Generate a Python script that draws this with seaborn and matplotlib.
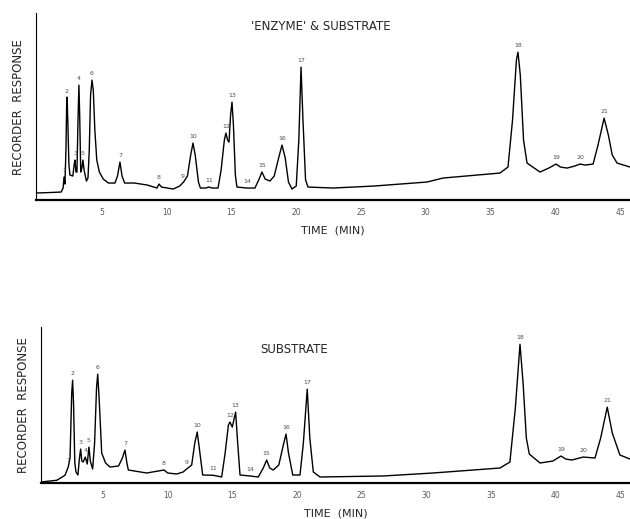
import numpy as np
import pandas as pd
import matplotlib
matplotlib.use("Agg")
import matplotlib.pyplot as plt
import seaborn as sns

# chromatogram traces (time in min, response in arbitrary units)
enz_time = [-0.1, 1.0, 1.85, 2.0, 2.07, 2.14, 2.22, 2.28, 2.31, 2.36, 2.45, 2.53, 2.75, 2.86,
            2.92, 2.99, 3.07, 3.14, 3.22, 3.28, 3.36, 3.45, 3.53, 3.62, 3.80, 3.92, 4.02, 4.12,
            4.23, 4.33, 4.45, 4.60, 4.80, 5.10, 5.50, 6.0, 6.20, 6.39, 6.55, 6.75, 7.5, 8.5,
            9.25, 9.40, 9.60, 10.5, 11.0, 11.3, 11.6, 11.85, 12.03, 12.2, 12.45, 12.6, 13.0,
            13.26, 13.5, 13.96, 14.2, 14.45, 14.57, 14.7, 14.81, 14.93, 15.04, 15.15, 15.3,
            15.42, 16.19, 16.81, 17.1, 17.35, 17.6, 17.97, 18.3, 18.6, 18.90, 19.15, 19.4,
            19.67, 20.0, 20.2, 20.37, 20.52, 20.72, 20.91, 22.84, 26.0, 30.1, 31.33, 35.73,
            36.35, 36.7, 37.0, 37.12, 37.3, 37.55, 37.82, 38.82, 39.5, 40.06, 40.4, 40.91,
            41.5, 41.91, 42.3, 42.92, 43.3, 43.77, 44.1, 44.4, 44.77, 45.77]
enz_resp = [7, 7.5, 8, 12, 23, 16, 50, 100, 103, 80, 35, 25, 24, 36,
            40, 28, 28, 75, 115, 85, 28, 32, 40, 30, 19, 22, 50, 105,
            120, 110, 70, 40, 28, 21, 17, 17, 24, 38, 24, 17, 17, 15,
            12, 16, 13, 11, 14, 18, 24, 45, 57, 45, 18, 12, 12,
            13, 12, 12, 30, 60, 67, 60, 58, 85, 98, 75, 25,
            13, 12, 12, 20, 28, 21, 19, 24, 40, 55, 42, 18,
            11, 14, 60, 133, 80, 20, 13, 12, 14, 18, 22, 27,
            33, 80, 140, 148, 125, 60, 37, 28, 32, 36, 33, 32,
            34, 36, 35, 36, 55, 82, 65, 45, 37, 33]

sub_time = [0.2, 1.42, 2.06, 2.31, 2.45, 2.58, 2.65, 2.72, 2.82, 2.91, 3.06, 3.18, 3.27, 3.36,
            3.47, 3.63, 3.78, 3.91, 4.02, 4.20, 4.35, 4.50, 4.59, 4.70, 4.90, 5.20, 5.54, 6.2,
            6.5, 6.70, 6.85, 6.96, 8.38, 9.72, 10.0, 10.70, 11.2, 11.47, 11.86, 12.1, 12.29,
            12.45, 12.71, 13.53, 14.18, 14.45, 14.70, 14.82, 15.00, 15.26, 15.42, 15.60, 16.37,
            17.01, 17.4, 17.66, 17.9, 18.17, 18.6, 18.95, 19.16, 19.35, 19.68, 20.24, 20.5,
            20.80, 21.0, 21.27, 21.79, 26.66, 30.53, 35.71, 36.48, 36.9, 37.26, 37.5, 37.75,
            37.98, 38.81, 39.8, 40.43, 40.8, 41.26, 42.16, 43.06, 43.5, 44.01, 44.4, 44.99, 45.77]
sub_resp = [1, 2.7, 7.7, 16, 25, 90, 103, 80, 20, 11, 8, 25, 34, 22,
            21, 26, 19, 36, 22, 14, 40, 95, 109, 85, 30, 20, 16, 17,
            25, 33, 20, 13, 10, 13, 10, 9, 11, 14, 18, 40, 51,
            35, 8, 7.7, 6, 30, 58, 61, 56, 71, 40, 8, 7,
            6, 15, 23, 15, 13, 18, 38, 49, 30, 8, 8, 40,
            94, 45, 11, 6, 7, 10, 15, 21, 75, 139, 100, 45,
            29, 20, 22, 27, 24, 23, 26, 25, 45, 76, 50, 28, 24]

# peak numbers and retention times
peak_nums = [str(i) for i in range(1, 22)]
enz_peaks = [2.07, 2.30, 2.92, 3.22, 3.53, 4.23, 6.39, 9.40, 11.26, 12.03, 13.26, 14.57,
             15.04, 16.19, 17.35, 18.90, 20.37, 37.12, 40.06, 41.91, 43.77]
sub_peaks = [2.31, 2.65, 3.27, 3.63, 3.91, 4.59, 6.70, 9.72, 11.47, 12.29, 13.53, 14.82,
             15.26, 16.37, 17.66, 19.16, 20.80, 37.26, 40.43, 42.16, 44.01]

tick_vals = [5, 10, 15, 20, 25, 30, 35, 40, 45]
tick_labels = ["5", "10", "15", "20", "25", "30", "35", "40", "45"]

sns.set_style("white")
plt.rcParams["font.family"] = ["DejaVu Sans"]

fig = plt.figure(figsize=(6.3, 5.19), dpi=100)
ax1 = fig.add_axes([0.057, 0.6146, 0.943, 0.36])
ax2 = fig.add_axes([0.065, 0.0694, 0.935, 0.30])

panels = [
    (ax1, enz_time, enz_resp, enz_peaks, "'ENZYME' & SUBSTRATE", (0.48, 0.93), (-0.1, 45.77), 187),
    (ax2, sub_time, sub_resp, sub_peaks, "SUBSTRATE", (0.43, 0.86), (0.2, 45.77), 156),
]

for ax, t, r, peaks, title, tpos, xlim, ytop in panels:
    df = pd.DataFrame({"time": t, "resp": r})
    sns.lineplot(data=df, x="time", y="resp", ax=ax, color="black", linewidth=1.0,
                 sort=False, estimator=None)
    for num, pt in zip(peak_nums, peaks):
        yy = np.interp(pt, t, r)
        ax.text(pt, yy + 4, num, fontsize=4.5, color="0.3", ha="center", va="bottom")
    ax.set_xlim(*xlim)
    ax.set_ylim(0, ytop)
    ax.set_xticks(tick_vals)
    ax.set_xticklabels(tick_labels, fontsize=5.5, color="0.35")
    ax.set_yticks([])
    ax.tick_params(axis="x", length=0, pad=6)
    ax.set_xlabel("TIME  (MIN)", fontsize=8, labelpad=6)
    ax.set_ylabel("RECORDER  RESPONSE", fontsize=8.5, labelpad=8)
    ax.text(tpos[0], tpos[1], title, transform=ax.transAxes, fontsize=8.5,
            ha="center", va="center")
    sns.despine(ax=ax, top=True, right=True)
    ax.spines["bottom"].set_linewidth(1.6)
    ax.spines["left"].set_linewidth(0.8)
    ax.spines["bottom"].set_color("black")
    ax.spines["left"].set_color("black")

fig.savefig("out.png", dpi=100)
